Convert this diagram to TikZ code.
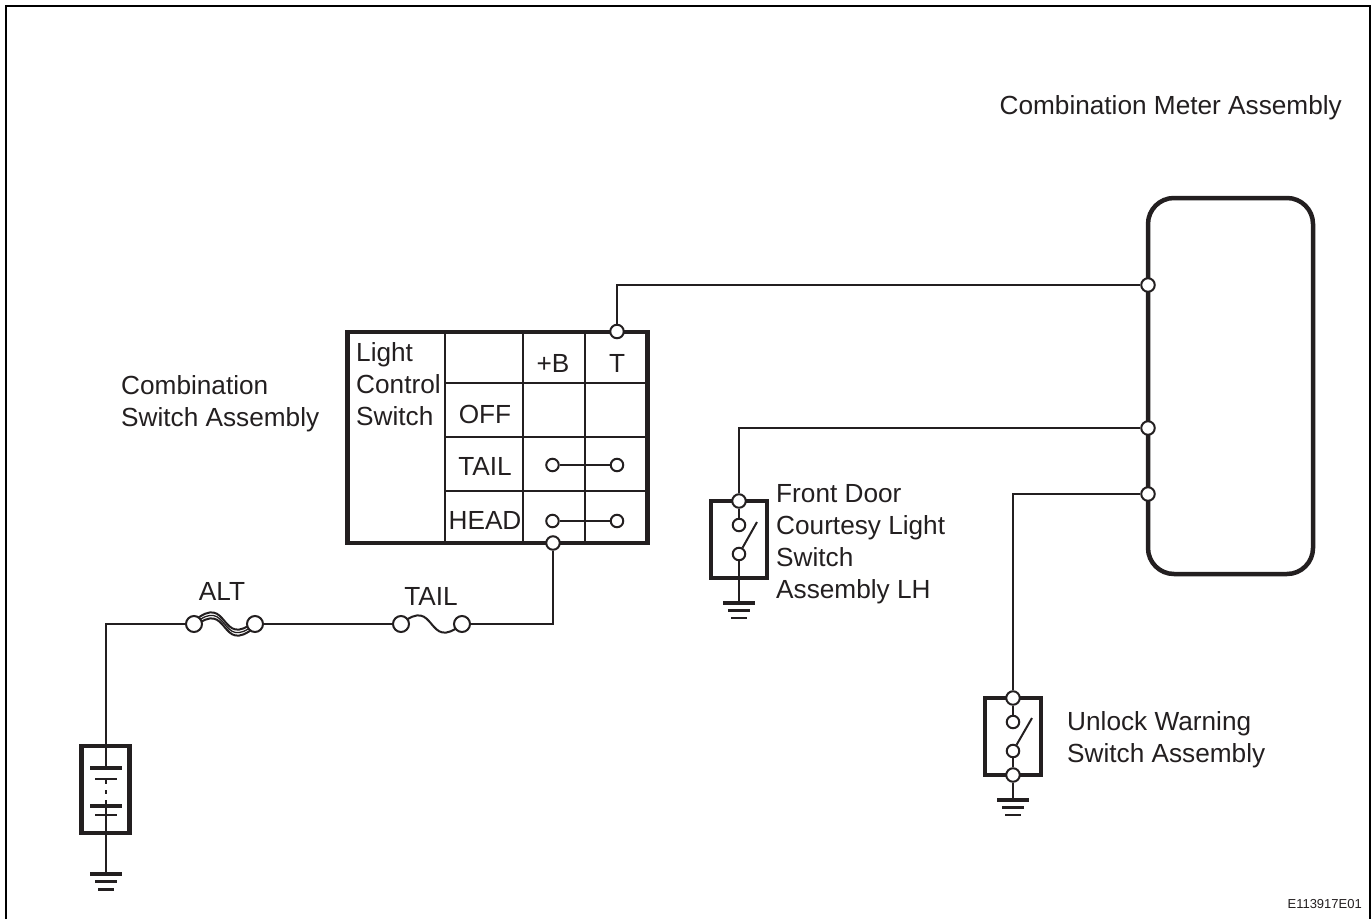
\documentclass[tikz,border=0pt]{standalone}
\usepackage{fontspec}
\setmainfont{Liberation Sans}
\usetikzlibrary{backgrounds}
\definecolor{inkc}{HTML}{231F20}

\tikzset{
	wire/.style={draw=inkc, line width=2pt},
	heavy box/.style={
		rectangle,
		draw=inkc, line width=4.5pt,
		inner sep=0pt, outer sep=0pt,
	},
	terminal/.style={
		circle,
		draw=inkc, line width=2pt,
		fill=white,
		minimum size=13.5pt,
		inner sep=0pt,
	},
	contact/.style={terminal, minimum size=12.5pt},
	fuse end/.style={terminal, minimum size=16pt},
	thick bar/.style={rectangle, fill=inkc, minimum width=32pt, minimum height=3.6pt, inner sep=0pt},
	mid bar/.style={rectangle, fill=inkc, minimum width=22pt, minimum height=2.2pt, inner sep=0pt},
	low bar/.style={rectangle, fill=inkc, minimum width=16pt, minimum height=2.2pt, inner sep=0pt},
	caption/.style={
		text=inkc, inner sep=0pt, align=left,
		font=\fontsize{26.2}{32}\selectfont,
	},
}

\begin{document}
\begin{tikzpicture}[x=1pt, y=1pt]
	\useasboundingbox (0,0) rectangle (1371,-919);
	
	\coordinate (FR1) at (6,-919);
	\coordinate (FR2) at (6,-6);
	\coordinate (FR3) at (1370,-6);
	\coordinate (FR4) at (1370,-919);
	\draw[draw=black, line width=2pt] (FR1) -- (FR2) -- (FR3) -- (FR4);
	
	% meter
	\node[heavy box, rounded corners=26pt, minimum width=165pt, minimum height=376pt](METER) at (1230.5,-386){};
	\node[terminal](M1) at (1148,-285){};
	\node[terminal, below of=M1, node distance=143pt](M2){};
	\node[terminal, below of=M2, node distance=66pt](M3){};
	\node[caption, anchor=east](METERTXT) at (1342,-108){Combination Meter Assembly};
	
	% light control switch
	\node[heavy box, minimum width=300pt, minimum height=211pt](SW) at (497.5,-437.5){};
	\foreach \dx in {97.5,175.5,237.5}
		\draw[wire] ([xshift=\dx pt]SW.north west) -- ([xshift=\dx pt]SW.south west);
	\foreach \dy in {51,105,159}
		\draw[wire] ([xshift=97.5pt, yshift=-\dy pt]SW.north west) -- ([yshift=-\dy pt]SW.north east);
	\node[terminal](SWT) at (617,-331.5){};
	\node[terminal](SWB) at (553,-543){};
	\node[contact](TL1) at (552.5,-465){};
	\node[contact, right of=TL1, node distance=64.5pt](TL2){};
	\node[contact, below of=TL1, node distance=56pt](HD1){};
	\node[contact, right of=HD1, node distance=64.5pt](HD2){};
	\draw[wire] (TL1) -- (TL2);
	\draw[wire] (HD1) -- (HD2);
	
	\node[caption, anchor=north west](LCS) at (356,-342){Light\\Control\\Switch};
	\node[caption](PB) at (553,-363){+B};
	\node[caption, right of=PB, node distance=64pt](PT){T};
	\node[caption](OFF) at (485,-414){OFF};
	\node[caption, below of=OFF, node distance=52pt](TAILSW){TAIL};
	\node[caption, below of=TAILSW, node distance=54pt](HEAD){HEAD};
	\node[caption, anchor=west](CSA) at (121,-403.5){Combination\\Switch Assembly};
	
	% fuses
	\node[fuse end](A1) at (194,-624){};
	\node[fuse end, right of=A1, node distance=61pt](A2){};
	\node[fuse end, right of=A2, node distance=146pt](F1){};
	\node[fuse end, right of=F1, node distance=61pt](F2){};
	\node[caption, above of=A1, node distance=33pt, xshift=28pt](ALT){ALT};
	\node[caption, above of=F1, node distance=28pt, xshift=30pt](TAILF){TAIL};
	\begin{scope}[on background layer]
		\foreach \dy/\lw in {-3/2,0/1.3,3/2}
			\draw[draw=inkc, line width=\lw pt] ([yshift=\dy pt]A1.center) .. controls +(36,30) and +(-36,-30) .. ([yshift=\dy pt]A2.center);
		\draw[wire] (F1.center) .. controls +(36,30) and +(-36,-30) .. (F2.center);
	\end{scope}
	
	% battery
	\node[heavy box, minimum width=48pt, minimum height=87pt](BAT) at (105.5,-789.5){};
	\node[thick bar, above of=BAT, node distance=21.5pt](PL1){};
	\node[mid bar, below of=PL1, node distance=11pt](PL2){};
	\node[thick bar, below of=PL2, node distance=27pt](PL3){};
	\node[mid bar, below of=PL3, node distance=9pt](PL4){};
	\node[thick bar, below of=PL4, node distance=59pt](BG1){};
	\node[mid bar, below of=BG1, node distance=7.5pt](BG2){};
	\node[low bar, below of=BG2, node distance=8pt](BG3){};
	
	\draw[wire] (BAT.north) -- (PL1);
	\draw[wire, dash pattern=on 4pt off 6pt] (PL2) -- (PL3);
	\draw[wire] (PL3) -- (BG1);
	
	% door switch
	\node[heavy box, minimum width=56pt, minimum height=77pt](DR) at (739,-539.5){};
	\node[terminal](DT) at (DR.north){};
	\node[contact, below of=DT, node distance=24pt](DC1){};
	\node[contact, below of=DC1, node distance=29pt](DC2){};
	\coordinate (DBL) at (757,-522);
	\node[thick bar, below of=DC2, node distance=49pt](DG1){};
	\node[mid bar, below of=DG1, node distance=7.5pt](DG2){};
	\node[low bar, below of=DG2, node distance=7.5pt](DG3){};
	\node[caption, right of=DT, node distance=37pt, anchor=north west, yshift=17pt](DRTXT){Front Door\\Courtesy Light\\Switch\\Assembly LH};
	
	\draw[wire] (DT) -- (DC1);
	\draw[wire] (DC2) -- (DBL);
	\draw[wire] (DC2) -- (DG1);
	
	% unlock switch
	\node[heavy box, minimum width=56pt, minimum height=77pt](UL) at (1013,-736.5){};
	\node[terminal](UT1) at (UL.north){};
	\node[terminal](UT2) at (UL.south){};
	\node[contact, below of=UT1, node distance=24pt](UC1){};
	\node[contact, below of=UC1, node distance=29pt](UC2){};
	\coordinate (UBL) at (1032,-718);
	\node[thick bar, below of=UT2, node distance=25pt](UG1){};
	\node[mid bar, below of=UG1, node distance=7.5pt](UG2){};
	\node[low bar, below of=UG2, node distance=7.5pt](UG3){};
	\node[caption, anchor=west](ULTXT) at (1067,-740){Unlock Warning\\Switch Assembly};
	
	\draw[wire] (UT1) -- (UC1);
	\draw[wire] (UC2) -- (UBL);
	\draw[wire] (UC2) -- (UT2);
	\draw[wire] (UT2) -- (UG1);
	
	% harness
	\draw[wire] (SWT) |- (M1);
	\draw[wire] (DT) |- (M2);
	\draw[wire] (UT1) |- (M3);
	\draw[wire] (SWB) |- (F2);
	\draw[wire] (F1) -- (A2);
	\draw[wire] (A1) -| (BAT.north);
	
	\node[caption, anchor=east, font=\fontsize{13}{15}\selectfont](DOCNO) at (1362,-904){E113917E01};
\end{tikzpicture}
\end{document}
